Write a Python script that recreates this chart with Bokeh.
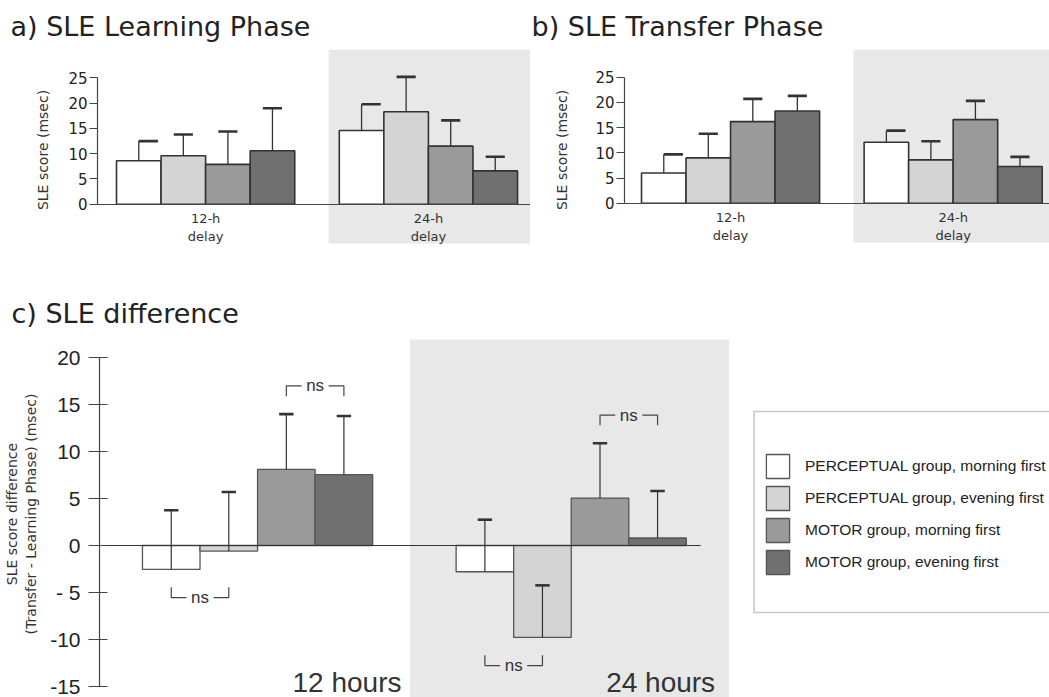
from bokeh.plotting import figure
from bokeh.models import Range1d, FixedTicker, BoxAnnotation, Legend, LegendItem, ColumnDataSource
from bokeh.layouts import column, row
from bokeh.embed import file_html
from bokeh.resources import INLINE
from bokeh.core.properties import value

# ---------------- data ----------------
SERIES = ["PERCEPTUAL group, morning first", "PERCEPTUAL group, evening first",
          "MOTOR group, morning first", "MOTOR group, evening first"]
COLORS = ["#ffffff", "#d4d4d4", "#9a9a9a", "#707070"]
DELAY_LABELS_AB = ["12-h\ndelay", "24-h\ndelay"]
DELAY_LABELS_C = ["12 hours", "24 hours"]

# a) learning phase (mean, SD) for each series
learn_12h_mean = [8.6, 9.6, 7.9, 10.6]
learn_12h_sd = [3.9, 4.2, 6.5, 8.4]
learn_24h_mean = [14.6, 18.3, 11.5, 6.6]
learn_24h_sd = [5.2, 6.9, 5.1, 2.8]
# b) transfer phase
transfer_12h_mean = [6.0, 9.0, 16.2, 18.3]
transfer_12h_sd = [3.7, 4.8, 4.5, 3.0]
transfer_24h_mean = [12.1, 8.6, 16.6, 7.3]
transfer_24h_sd = [2.3, 3.7, 3.7, 1.9]
# c) difference (transfer - learning)
diff_12h_mean = [-2.55, -0.6, 8.1, 7.55]
diff_12h_sd = [6.3, 6.3, 5.9, 6.25]
diff_24h_mean = [-2.8, -9.8, 5.05, 0.8]
diff_24h_sd = [5.55, 5.55, 5.85, 5.0]

YTICKS_AB = [0, 5, 10, 15, 20, 25]
YTICKS_C = [-15, -10, -5, 0, 5, 10, 15, 20]
YTICK_LABELS_C = ["-15", "-10", "- 5", "0", "5", "10", "15", "20"]

# non-significant comparisons: (delay index, series i, series j, side)
NS_COMPARISONS = [(0, 0, 1, "below"), (0, 2, 3, "above"), (1, 2, 3, "above"), (1, 0, 1, "below")]
NS_TEXT = "ns"

TXT = "#222222"
AXC = "#444444"
SHADE = "#e8e8e8"
NARROW = "'Liberation Sans Narrow', 'Arial Narrow', 'Liberation Sans', sans-serif"


def xpos(g, s, gap):
    return g * (4 + gap) + s + 0.5


def draw_bars(p, means, sds, gap, cap_w, line_color, line_w, stem_w, cap_lw, right_cap_first):
    rends = []
    for s in range(4):
        xs = [xpos(g, s, gap) for g in range(2)]
        tops = [means[g][s] for g in range(2)]
        caps = [means[g][s] + sds[g][s] for g in range(2)]
        if right_cap_first and s == 0:
            c0 = [x for x in xs]
            c1 = [x + cap_w for x in xs]
        else:
            c0 = [x - cap_w / 2 for x in xs]
            c1 = [x + cap_w / 2 for x in xs]
        src = ColumnDataSource(dict(x=xs, top=tops, cap=caps, c0=c0, c1=c1))
        r = p.vbar(x="x", top="top", bottom=0, width=1, source=src,
                   fill_color=COLORS[s], line_color=line_color, line_width=line_w)
        p.segment(x0="x", y0="top", x1="x", y1="cap", source=src,
                  line_color="#333333", line_width=stem_w)
        p.segment(x0="c0", y0="cap", x1="c1", y1="cap", source=src,
                  line_color="#333333", line_width=cap_lw)
        rends.append(r)
    return rends


def style_common(p):
    p.grid.visible = False
    p.outline_line_color = None
    p.background_fill_color = "white"
    p.border_fill_color = "white"


def make_ab(title, means, sds, width, min_left, xr, yr, shade_bottom, title_offset, ylab_standoff):
    p = figure(width=width, height=260, x_range=Range1d(*xr), y_range=Range1d(*yr),
               min_border_left=min_left, min_border_right=0, min_border_top=47,
               min_border_bottom=10, toolbar_location=None, output_backend="svg",
               title=title)
    style_common(p)
    p.title.text_font = "DejaVu Sans"
    p.title.text_font_size = "27px"
    p.title.text_font_style = "normal"
    p.title.text_color = TXT
    p.title.offset = title_offset
    p.title.standoff = 16
    gap = 1
    p.add_layout(BoxAnnotation(left=4 + gap - 0.24, bottom=shade_bottom, fill_color=SHADE,
                               fill_alpha=1, line_color=None, level="underlay"))
    draw_bars(p, means, sds, gap, 0.43, "#333333", 1.6, 1.3, 2.6, True)
    # y axis
    ya = p.yaxis[0]
    ya.ticker = FixedTicker(ticks=YTICKS_AB)
    ya.bounds = (YTICKS_AB[0], YTICKS_AB[-1])
    ya.major_tick_out = 8
    ya.major_tick_in = 0
    ya.minor_tick_out = 0
    ya.minor_tick_in = 0
    ya.axis_line_color = AXC
    ya.major_tick_line_color = AXC
    ya.axis_line_width = 1.2
    ya.major_tick_line_width = 1.2
    ya.major_label_text_font = "DejaVu Sans"
    ya.major_label_text_font_size = "15px"
    ya.major_label_text_color = TXT
    ya.major_label_standoff = 2
    ya.axis_label = "SLE score (msec)"
    ya.axis_label_text_font = "DejaVu Sans"
    ya.axis_label_text_font_size = "14px"
    ya.axis_label_text_font_style = "normal"
    ya.axis_label_text_color = "#333333"
    ya.axis_label_standoff = ylab_standoff
    # x axis at zero
    xa = p.xaxis[0]
    xa.fixed_location = 0
    centers = [g * (4 + gap) + 2 for g in range(2)]
    xa.ticker = FixedTicker(ticks=centers)
    xa.major_label_overrides = {c: lab for c, lab in zip(centers, DELAY_LABELS_AB)}
    xa.major_tick_out = 0
    xa.major_tick_in = 0
    xa.minor_tick_out = 0
    xa.minor_tick_in = 0
    xa.axis_line_color = AXC
    xa.axis_line_width = 1.2
    xa.major_label_text_font = "DejaVu Sans"
    xa.major_label_text_font_size = "13px"
    xa.major_label_text_color = "#333333"
    xa.major_label_standoff = 7
    return p


pa = make_ab("a) SLE Learning Phase", [learn_12h_mean, learn_24h_mean],
             [learn_12h_sd, learn_24h_sd], 530, 97, (-0.4264, 9.291), (-9.15, 30.62), -7.78, -87, 14)
pb = make_ab("b) SLE Transfer Phase", [transfer_12h_mean, transfer_24h_mean],
             [transfer_12h_sd, transfer_24h_sd], 519, 94, (-0.382, 9.164), (-9.37, 30.5), -7.8, -93, 22)

# ---------------- panel c ----------------
GAP_C = 1.45
pc = figure(width=1049, height=437, x_range=Range1d(-0.7465, 15.76), y_range=Range1d(-16.2, 22.91),
            min_border_left=98, min_border_right=0, min_border_top=70, min_border_bottom=0,
            toolbar_location=None, output_backend="svg", title="c) SLE difference")
style_common(pc)
pc.title.text_font = "DejaVu Sans"
pc.title.text_font_size = "27px"
pc.title.text_font_style = "normal"
pc.title.text_color = TXT
pc.title.offset = -88
pc.title.standoff = 4

g2_start = 4 + GAP_C
pc.add_layout(BoxAnnotation(left=g2_start - 0.8, right=g2_start + 4.74, top=21.95,
                            fill_color=SHADE, fill_alpha=1, line_color=None, level="underlay"))

means_c = [diff_12h_mean, diff_24h_mean]
sds_c = [diff_12h_sd, diff_24h_sd]
rends_c = draw_bars(pc, means_c, sds_c, GAP_C, 0.25, "#555555", 1.3, 1.2, 2.6, False)

# ns brackets
BR_TICK = 1.1
BR_GAP = 0.47
xs_l, ys_l, tx, ty, tt = [], [], [], [], []
for g, i, j, side in NS_COMPARISONS:
    xi, xj = xpos(g, i, GAP_C), xpos(g, j, GAP_C)
    xm = (xi + xj) / 2
    if side == "above":
        lvl = max(means_c[g][i] + sds_c[g][i], means_c[g][j] + sds_c[g][j]) + 3.0
        tip = lvl - BR_TICK
    else:
        lvl = min(means_c[g][i], means_c[g][j]) - 3.0
        tip = lvl + BR_TICK
    xs_l += [[xi, xi, xm - BR_GAP / 2], [xm + BR_GAP / 2, xj, xj]]
    ys_l += [[tip, lvl, lvl], [lvl, lvl, tip]]
    tx.append(xm)
    ty.append(lvl)
    tt.append(NS_TEXT)
pc.multi_line(xs=xs_l, ys=ys_l, line_color="#444444", line_width=1.2)
pc.text(x=tx, y=ty, text=tt, text_align="center", text_baseline="middle",
        text_font=value(NARROW), text_font_size="17px", text_color="#333333")

# group labels
pc.text(x=[g * (4 + GAP_C) + 4.5 for g in range(2)], y=[YTICKS_C[0] + 0.4] * 2,
        text=DELAY_LABELS_C, text_align="right", text_baseline="alphabetic",
        text_font=value("Liberation Sans"), text_font_size="28px", text_color="#333333")

ya = pc.yaxis[0]
ya.ticker = FixedTicker(ticks=YTICKS_C)
ya.major_label_overrides = {t: lab for t, lab in zip(YTICKS_C, YTICK_LABELS_C)}
ya.bounds = (YTICKS_C[0], YTICKS_C[-1])
ya.major_tick_out = 11
ya.major_tick_in = 8
ya.minor_tick_out = 0
ya.minor_tick_in = 0
ya.axis_line_color = AXC
ya.major_tick_line_color = AXC
ya.axis_line_width = 1.2
ya.major_tick_line_width = 1.2
ya.major_label_text_font = "Liberation Sans"
ya.major_label_text_font_size = "21px"
ya.major_label_text_color = TXT
ya.major_label_standoff = 8
ya.axis_label = "SLE score difference\n(Transfer - Learning Phase) (msec)"
ya.axis_label_text_font = "DejaVu Sans"
ya.axis_label_text_font_size = "14px"
ya.axis_label_text_font_style = "normal"
ya.axis_label_text_color = "#333333"
ya.axis_label_standoff = 8

xa = pc.xaxis[0]
xa.fixed_location = 0
xa.bounds = (-0.7465, g2_start + 4.25)
xa.ticker = FixedTicker(ticks=[])
xa.major_tick_out = 0
xa.major_tick_in = 0
xa.minor_tick_out = 0
xa.minor_tick_in = 0
xa.axis_line_color = "#333333"
xa.axis_line_width = 1.2

# legend frame (right edge runs past the canvas, as in the original)
pc.add_layout(BoxAnnotation(left=g2_start + 5.175, right=17.0, top=14.28, bottom=-7.14,
                            fill_color="white", fill_alpha=1, line_color="#444444",
                            line_width=1.5))

legend = Legend(items=[LegendItem(label=SERIES[s], renderers=[rends_c[s]]) for s in range(4)],
                location=(664, 120))
legend.label_text_font = "Liberation Sans"
legend.label_text_font_size = "15.5px"
legend.label_text_color = TXT
legend.glyph_width = 29
legend.glyph_height = 30
legend.label_height = 30
legend.spacing = 2
legend.padding = 11
legend.label_standoff = 13
legend.label_width = 250
legend.margin = 0
legend.border_line_color = None
legend.background_fill_alpha = 0
pc.add_layout(legend)

layout = column(row(pa, pb), pc)
open("out.html", "w").write(file_html(layout, INLINE))
